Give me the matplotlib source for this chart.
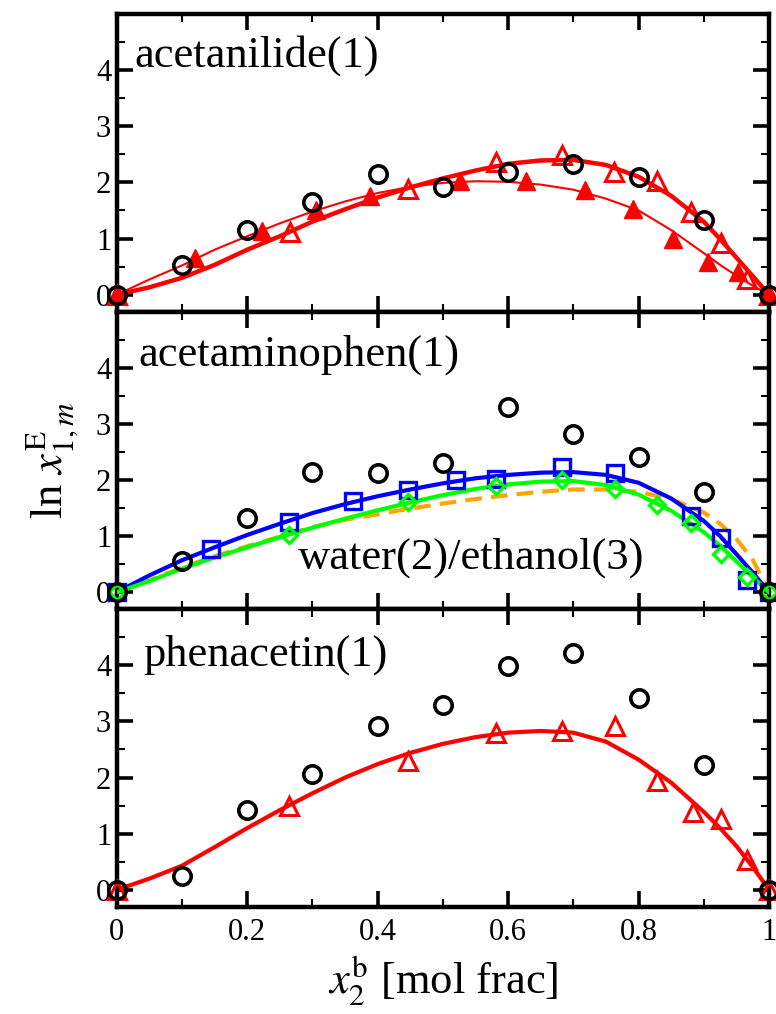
import numpy as np
import matplotlib.pyplot as plt
from matplotlib.ticker import MultipleLocator

plt.rcParams['font.family'] = ['Liberation Serif', 'DejaVu Serif']
plt.rcParams['mathtext.fontset'] = 'stix'

# ---------------------------
# Daten
# ---------------------------
x_circ = [0, 0.1, 0.2, 0.3, 0.4, 0.5, 0.6, 0.7, 0.8, 0.9, 1.0]
x_line = [0, 0.05, 0.1, 0.15, 0.2, 0.25, 0.3, 0.35, 0.4, 0.45, 0.5, 0.55,
          0.6, 0.65, 0.7, 0.75, 0.8, 0.85, 0.9, 0.925, 0.95, 0.975, 1.0]

# acetanilide
acet_circ = [0, 0.53, 1.15, 1.65, 2.14, 1.92, 2.19, 2.33, 2.09, 1.33, 0]
acet_fill_x = [0, 0.12, 0.222, 0.305, 0.388, 0.526, 0.628, 0.718, 0.792, 0.853, 0.906, 0.952, 1.0]
acet_fill = [0, 0.65, 1.13, 1.5, 1.75, 2.03, 2.03, 1.86, 1.52, 0.99, 0.59, 0.41, 0]
acet_open_x = [0, 0.265, 0.447, 0.581, 0.683, 0.763, 0.828, 0.88, 0.926, 0.966, 1.0]
acet_open = [0, 1.12, 1.89, 2.37, 2.48, 2.19, 2.02, 1.48, 0.92, 0.27, 0]
acet_thick = [0, 0.13, 0.3, 0.53, 0.8, 1.04, 1.3, 1.52, 1.73, 1.91, 2.07, 2.21, 2.33,
              2.39, 2.4, 2.31, 2.1, 1.76, 1.3, 0.99, 0.66, 0.33, 0]
acet_thin = [0, 0.27, 0.52, 0.8, 1.04, 1.27, 1.48, 1.66, 1.81, 1.92, 1.99, 2.02, 2.01,
             1.96, 1.87, 1.71, 1.5, 1.15, 0.74, 0.53, 0.34, 0.16, 0]

# acetaminophen
acmp_circ = [0, 0.56, 1.32, 2.15, 2.13, 2.31, 3.3, 2.82, 2.41, 1.79, 0]
acmp_sq_x = [0, 0.145, 0.264, 0.363, 0.446, 0.52, 0.581, 0.683, 0.764, 0.88, 0.926, 0.966, 1.0]
acmp_sq = [0, 0.77, 1.26, 1.63, 1.83, 2.0, 2.01, 2.23, 2.12, 1.35, 0.96, 0.22, 0]
acmp_dia_x = [0, 0.264, 0.446, 0.581, 0.683, 0.764, 0.829, 0.88, 0.926, 0.966, 1.0]
acmp_dia = [0, 1.02, 1.61, 1.89, 2.0, 1.84, 1.55, 1.23, 0.69, 0.28, 0]
acmp_blue = [0, 0.3, 0.57, 0.8, 1.02, 1.22, 1.41, 1.57, 1.71, 1.83, 1.94, 2.03, 2.09,
             2.13, 2.14, 2.09, 1.95, 1.67, 1.27, 1.0, 0.68, 0.35, 0]
acmp_green = [0, 0.2, 0.42, 0.62, 0.8, 0.98, 1.15, 1.31, 1.46, 1.6, 1.73, 1.84, 1.92,
              1.97, 1.98, 1.91, 1.74, 1.45, 1.07, 0.83, 0.55, 0.27, 0]
acmp_orange = [0, 0.21, 0.44, 0.64, 0.82, 0.99, 1.16, 1.29, 1.39, 1.49, 1.58, 1.66, 1.73,
               1.79, 1.83, 1.83, 1.79, 1.66, 1.42, 1.22, 0.95, 0.58, 0]

# phenacetin
phen_circ = [0, 0.25, 1.42, 2.06, 2.91, 3.3, 3.99, 4.22, 3.42, 2.23, 0]
phen_open_x = [0, 0.264, 0.446, 0.581, 0.682, 0.764, 0.829, 0.883, 0.927, 0.966, 1.0]
phen_open = [0, 1.5, 2.29, 2.79, 2.83, 2.92, 1.94, 1.38, 1.26, 0.53, 0]
phen_line = [0, 0.2, 0.43, 0.76, 1.1, 1.42, 1.72, 2.0, 2.24, 2.44, 2.6, 2.72, 2.8,
             2.83, 2.8, 2.64, 2.32, 1.91, 1.39, 1.1, 0.78, 0.41, 0]

xtick_vals = [0, 0.2, 0.4, 0.6, 0.8, 1.0]
xtick_labels = ['0', '0.2', '0.4', '0.6', '0.8', '1']
ytick_vals = [0, 1, 2, 3, 4]

# ---------------------------
# Diagrammerstellung
# ---------------------------
fig = plt.figure(figsize=(7.76, 10.14), dpi=100)
left, width, h = 0.1504, 0.8406, 0.2935
bottoms = [0.1058 + 2 * h, 0.1058 + h, 0.1058]
axes = [fig.add_axes([left, b, width, h]) for b in bottoms]

mk = dict(clip_on=False, linestyle='none')
circ = dict(marker='o', ms=12.5, mfc='none', mec='black', mew=2.6, zorder=6, **mk)

ax = axes[0]
ax.plot(x_line, acet_thick, color='red', lw=3.2, zorder=2)
ax.plot(x_line, acet_thin, color='red', lw=1.5, zorder=2)
ax.plot(acet_fill_x, acet_fill, marker='^', ms=13, color='red', mec='red', zorder=4, **mk)
ax.plot(acet_open_x, acet_open, marker='^', ms=13, mfc='none', mec='red', mew=2.2, zorder=4, **mk)
ax.plot(x_circ, acet_circ, **circ)
ax.text(0.027, 4.06, 'acetanilide(1)', fontsize=32, ha='left', va='baseline')

ax = axes[1]
ax.plot(x_line, acmp_orange, color='#ffa500', lw=3, dashes=(4, 2.2), zorder=2)
ax.plot(x_line, acmp_blue, color='blue', lw=3, zorder=2)
ax.plot(x_line, acmp_green, color='#00ff00', lw=3, zorder=3)
ax.plot(acmp_sq_x, acmp_sq, marker='s', ms=11, mfc='none', mec='blue', mew=2.4, zorder=4, **mk)
ax.plot(acmp_dia_x, acmp_dia, marker='D', ms=8.5, mfc='none', mec='#00ff00', mew=2.4, zorder=5, **mk)
ax.plot(x_circ, acmp_circ, **circ)
ax.text(0.033, 4.03, 'acetaminophen(1)', fontsize=32, ha='left', va='baseline')
ax.text(0.543, 0.43, 'water(2)/ethanol(3)', fontsize=32, ha='center', va='baseline')

ax = axes[2]
ax.plot(x_line, phen_line, color='red', lw=3, zorder=2)
ax.plot(phen_open_x, phen_open, marker='^', ms=13, mfc='none', mec='red', mew=2.2, zorder=4, **mk)
ax.plot(x_circ, phen_circ, **circ)
ax.text(0.04, 4.0, 'phenacetin(1)', fontsize=32, ha='left', va='baseline')

for i, ax in enumerate(axes):
    ax.set_xlim(0, 1)
    ax.set_ylim(-0.3, 5)
    ax.set_xticks(xtick_vals)
    ax.set_yticks(ytick_vals)
    ax.xaxis.set_minor_locator(MultipleLocator(0.1))
    ax.yaxis.set_minor_locator(MultipleLocator(0.5))
    ax.tick_params(which='both', direction='in', top=True, right=True, labelsize=22)
    ax.tick_params(which='major', length=11.5, width=2.6)
    ax.tick_params(which='minor', length=5.5, width=1.5)
    ax.tick_params(axis='y', pad=4)
    ax.tick_params(axis='x', pad=8)
    for sp in ax.spines.values():
        sp.set_linewidth(3.2)
    if i < 2:
        ax.set_xticklabels([])
    else:
        ax.set_xticklabels(xtick_labels)

axes[1].set_ylabel(r'ln $x_{1,m}^{\mathrm{E}}$', fontsize=32)
axes[1].yaxis.set_label_coords(-0.056, 0.5)
axes[2].set_xlabel(r'$x_2^{\mathrm{b}}$ [mol frac]', fontsize=32)
axes[2].xaxis.set_label_coords(0.5, -0.16)

fig.savefig('out.png', dpi=100)
